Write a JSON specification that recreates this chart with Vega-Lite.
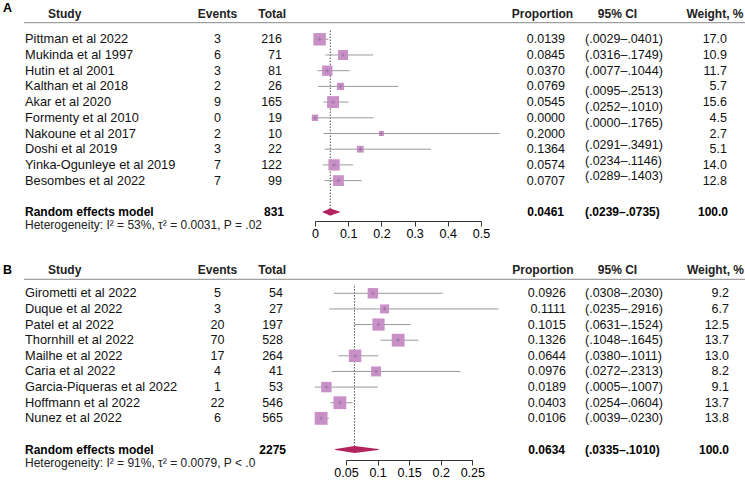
{
"$schema": "https://vega.github.io/schema/vega-lite/v6.json",
"padding": 0,
"background": "white",
"spacing": 11,
"config": {"view": {"stroke": null}, "font": "Liberation Sans", "text": {"font": "Liberation Sans"}},
"datasets": {
"studiesA": [
{"study": "Pittman et al 2022", "events": 3, "total": 216, "prop": 0.0139, "lo": 0.0029, "hi": 0.0401, "ci": "(.0029–.0401)", "weight": 17.0, "row": 1, "ciRow": 1},
{"study": "Mukinda et al 1997", "events": 6, "total": 71, "prop": 0.0845, "lo": 0.0316, "hi": 0.1749, "ci": "(.0316–.1749)", "weight": 10.9, "row": 2, "ciRow": 2},
{"study": "Hutin et al 2001", "events": 3, "total": 81, "prop": 0.0370, "lo": 0.0077, "hi": 0.1044, "ci": "(.0077–.1044)", "weight": 11.7, "row": 3, "ciRow": 3},
{"study": "Kalthan et al 2018", "events": 2, "total": 26, "prop": 0.0769, "lo": 0.0095, "hi": 0.2513, "ci": "(.0095–.2513)", "weight": 5.7, "row": 4, "ciRow": 4.3},
{"study": "Akar et al 2020", "events": 9, "total": 165, "prop": 0.0545, "lo": 0.0252, "hi": 0.1010, "ci": "(.0252–.1010)", "weight": 15.6, "row": 5, "ciRow": 5.34},
{"study": "Formenty et al 2010", "events": 0, "total": 19, "prop": 0.0000, "lo": 0.0000, "hi": 0.1765, "ci": "(.0000–.1765)", "weight": 4.5, "row": 6, "ciRow": 6.36},
{"study": "Nakoune et al 2017", "events": 2, "total": 10, "prop": 0.2000, "lo": 0.0252, "hi": 0.5561, "ci": "", "weight": 2.7, "row": 7, "ciRow": 7},
{"study": "Doshi et al 2019", "events": 3, "total": 22, "prop": 0.1364, "lo": 0.0291, "hi": 0.3491, "ci": "(.0291–.3491)", "weight": 5.1, "row": 8, "ciRow": 7.75},
{"study": "Yinka-Ogunleye et al 2019", "events": 7, "total": 122, "prop": 0.0574, "lo": 0.0234, "hi": 0.1146, "ci": "(.0234–.1146)", "weight": 14.0, "row": 9, "ciRow": 8.74},
{"study": "Besombes et al 2022", "events": 7, "total": 99, "prop": 0.0707, "lo": 0.0289, "hi": 0.1403, "ci": "(.0289–.1403)", "weight": 12.8, "row": 10, "ciRow": 9.72}
],
"summaryA": [{"label": "Random effects model", "total": 831, "prop": 0.0461, "lo": 0.0239, "hi": 0.0735, "ci": "(.0239–.0735)", "weight": 100.0, "row": 12}],
"diamondA": [{"x": 0.0239, "w": 0, "row": 12}, {"x": 0.0461, "w": 1, "row": 12}, {"x": 0.0735, "w": 0, "row": 12}],
"labelsA": [
{"key": "letter", "label": "A"},
{"key": "Study", "label": "Study"},
{"key": "Events", "label": "Events"},
{"key": "Total", "label": "Total"},
{"key": "Proportion", "label": "Proportion"},
{"key": "CI", "label": "95% CI"},
{"key": "Weight", "label": "Weight, %"},
{"key": "het", "label": "Heterogeneity: I² = 53%, τ² = 0.0031, P = .02"}
],
"studiesB": [
{"study": "Girometti et al 2022", "events": 5, "total": 54, "prop": 0.0926, "lo": 0.0308, "hi": 0.2030, "ci": "(.0308–.2030)", "weight": 9.2, "row": 1},
{"study": "Duque et al 2022", "events": 3, "total": 27, "prop": 0.1111, "lo": 0.0235, "hi": 0.2916, "ci": "(.0235–.2916)", "weight": 6.7, "row": 2},
{"study": "Patel et al 2022", "events": 20, "total": 197, "prop": 0.1015, "lo": 0.0631, "hi": 0.1524, "ci": "(.0631–.1524)", "weight": 12.5, "row": 3},
{"study": "Thornhill et al 2022", "events": 70, "total": 528, "prop": 0.1326, "lo": 0.1048, "hi": 0.1645, "ci": "(.1048–.1645)", "weight": 13.7, "row": 4},
{"study": "Mailhe et al 2022", "events": 17, "total": 264, "prop": 0.0644, "lo": 0.0380, "hi": 0.1011, "ci": "(.0380–.1011)", "weight": 13.0, "row": 5},
{"study": "Caria et al 2022", "events": 4, "total": 41, "prop": 0.0976, "lo": 0.0272, "hi": 0.2313, "ci": "(.0272–.2313)", "weight": 8.2, "row": 6},
{"study": "Garcia-Piqueras et al 2022", "events": 1, "total": 53, "prop": 0.0189, "lo": 0.0005, "hi": 0.1007, "ci": "(.0005–.1007)", "weight": 9.1, "row": 7},
{"study": "Hoffmann et al 2022", "events": 22, "total": 546, "prop": 0.0403, "lo": 0.0254, "hi": 0.0604, "ci": "(.0254–.0604)", "weight": 13.7, "row": 8},
{"study": "Nunez et al 2022", "events": 6, "total": 565, "prop": 0.0106, "lo": 0.0039, "hi": 0.0230, "ci": "(.0039–.0230)", "weight": 13.8, "row": 9}
],
"summaryB": [{"label": "Random effects model", "total": 2275, "prop": 0.0634, "lo": 0.0335, "hi": 0.1010, "ci": "(.0335–.1010)", "weight": 100.0, "row": 11}],
"diamondB": [{"x": 0.0335, "w": 0, "row": 11}, {"x": 0.0634, "w": 1, "row": 11}, {"x": 0.1010, "w": 0, "row": 11}],
"labelsB": [
{"key": "letter", "label": "B"},
{"key": "Study", "label": "Study"},
{"key": "Events", "label": "Events"},
{"key": "Total", "label": "Total"},
{"key": "Proportion", "label": "Proportion"},
{"key": "CI", "label": "95% CI"},
{"key": "Weight", "label": "Weight, %"},
{"key": "het", "label": "Heterogeneity: I² = 91%, τ² = 0.0079, P < .0"}
]
},
"vconcat": [
{
"width": 745, "height": 221,
"layer": [
{
"layer": [
{"data": {"name": "summaryA"}, "mark": {"type": "rule", "color": "#555555", "strokeDash": [1.5, 1.5], "strokeWidth": 1},
 "encoding": {
 "x": {"field": "prop", "type": "quantitative", "scale": {"domain": [0, 0.5], "range": [315, 481], "nice": false, "zero": false}, "axis": {"values": [0, 0.1, 0.2, 0.3, 0.4, 0.5], "format": "~g", "title": null, "grid": false, "labelFlush": false, "labelOverlap": false, "domainColor": "#333333", "tickColor": "#333333", "tickSize": 5, "labelPadding": 1, "labelFontSize": 12.5, "labelColor": "#000000", "labelFont": "Liberation Sans"}},
 "y": {"field": "row", "type": "quantitative", "scale": {"domain": [-1.503, 12.573], "reverse": true, "nice": false, "zero": false}, "axis": null},
 "y2": {"datum": 0.41}}},
{"data": {"name": "studiesA"}, "mark": {"type": "rule", "color": "#9a9a9a", "strokeWidth": 1},
 "encoding": {
 "x": {"field": "lo", "type": "quantitative", "scale": {"domain": [0, 0.5], "range": [315, 481], "nice": false, "zero": false}, "axis": {"values": [0, 0.1, 0.2, 0.3, 0.4, 0.5], "format": "~g", "title": null, "grid": false, "labelFlush": false, "labelOverlap": false, "domainColor": "#333333", "tickColor": "#333333", "tickSize": 5, "labelPadding": 1, "labelFontSize": 12.5, "labelColor": "#000000", "labelFont": "Liberation Sans"}},
 "x2": {"field": "hi"},
 "y": {"field": "row", "type": "quantitative", "scale": {"domain": [-1.503, 12.573], "reverse": true, "nice": false, "zero": false}, "axis": null}}},
{"data": {"name": "studiesA"}, "mark": {"type": "square", "filled": true, "color": "#c890c6", "opacity": 1},
 "encoding": {
 "x": {"field": "prop", "type": "quantitative", "scale": {"domain": [0, 0.5], "range": [315, 481], "nice": false, "zero": false}, "axis": {"values": [0, 0.1, 0.2, 0.3, 0.4, 0.5], "format": "~g", "title": null, "grid": false, "labelFlush": false, "labelOverlap": false, "domainColor": "#333333", "tickColor": "#333333", "tickSize": 5, "labelPadding": 1, "labelFontSize": 12.5, "labelColor": "#000000", "labelFont": "Liberation Sans"}},
 "y": {"field": "row", "type": "quantitative", "scale": {"domain": [-1.503, 12.573], "reverse": true, "nice": false, "zero": false}, "axis": null},
 "size": {"field": "weight", "type": "quantitative", "scale": {"domain": [0, 17], "range": [0, 155]}, "legend": null}}},
{"data": {"name": "studiesA"}, "mark": {"type": "point", "shape": "M-1,0L1,0M0,-1L0,1", "filled": false, "stroke": "#7d6c8a", "strokeWidth": 0.6, "size": 16, "opacity": 0.9},
 "encoding": {
 "x": {"field": "prop", "type": "quantitative", "scale": {"domain": [0, 0.5], "range": [315, 481], "nice": false, "zero": false}, "axis": {"values": [0, 0.1, 0.2, 0.3, 0.4, 0.5], "format": "~g", "title": null, "grid": false, "labelFlush": false, "labelOverlap": false, "domainColor": "#333333", "tickColor": "#333333", "tickSize": 5, "labelPadding": 1, "labelFontSize": 12.5, "labelColor": "#000000", "labelFont": "Liberation Sans"}},
 "y": {"field": "row", "type": "quantitative", "scale": {"domain": [-1.503, 12.573], "reverse": true, "nice": false, "zero": false}, "axis": null}}},
{"data": {"name": "diamondA"}, "mark": {"type": "trail", "color": "#b3245f"},
 "encoding": {
 "x": {"field": "x", "type": "quantitative", "scale": {"domain": [0, 0.5], "range": [315, 481], "nice": false, "zero": false}, "axis": {"values": [0, 0.1, 0.2, 0.3, 0.4, 0.5], "format": "~g", "title": null, "grid": false, "labelFlush": false, "labelOverlap": false, "domainColor": "#333333", "tickColor": "#333333", "tickSize": 5, "labelPadding": 1, "labelFontSize": 12.5, "labelColor": "#000000", "labelFont": "Liberation Sans"}},
 "y": {"field": "row", "type": "quantitative", "scale": {"domain": [-1.503, 12.573], "reverse": true, "nice": false, "zero": false}, "axis": null},
 "size": {"field": "w", "type": "quantitative", "scale": {"domain": [0, 1], "range": [0, 7]}, "legend": null}}}
],
"resolve": {"scale": {"size": "independent"}}
},
{
"layer": [
{"data": {"name": "labelsA"}, "transform": [{"filter": "datum.key == 'Study'"}],
 "mark": {"type": "rule", "color": "#888888", "strokeWidth": 1, "xOffset": -1, "x2Offset": 20},
 "encoding": {
 "x": {"datum": "Study", "type": "nominal", "scale": {"type": "point", "domain": ["Study", "Events", "Total", "Proportion", "CI", "Weight"], "range": [25, 725], "padding": 0}, "axis": null},
 "x2": {"datum": "Weight"},
 "y": {"datum": -0.057, "type": "quantitative", "scale": {"domain": [-1.503, 12.573], "reverse": true, "nice": false, "zero": false}, "axis": null}}},
{"data": {"name": "labelsA"}, "transform": [{"filter": "datum.key == 'letter'"}],
 "mark": {"type": "text", "align": "left", "baseline": "middle", "fontSize": 12.5, "fontWeight": "bold", "color": "#000000", "dx": -22},
 "encoding": {
 "x": {"datum": "Study", "type": "nominal", "scale": {"type": "point", "domain": ["Study", "Events", "Total", "Proportion", "CI", "Weight"], "range": [25, 725], "padding": 0}, "axis": null},
 "y": {"datum": -1.0, "type": "quantitative", "scale": {"domain": [-1.503, 12.573], "reverse": true, "nice": false, "zero": false}, "axis": null},
 "text": {"field": "label"}}},
{"data": {"name": "labelsA"}, "transform": [{"filter": "datum.key == 'Study'"}],
 "mark": {"type": "text", "align": "left", "baseline": "middle", "fontSize": 12, "fontWeight": "bold", "color": "#222222", "dx": 23},
 "encoding": {
 "x": {"datum": "Study", "type": "nominal", "scale": {"type": "point", "domain": ["Study", "Events", "Total", "Proportion", "CI", "Weight"], "range": [25, 725], "padding": 0}, "axis": null},
 "y": {"datum": -0.59, "type": "quantitative", "scale": {"domain": [-1.503, 12.573], "reverse": true, "nice": false, "zero": false}, "axis": null},
 "text": {"field": "label"}}},
{"data": {"name": "labelsA"}, "transform": [{"filter": "datum.key == 'Events'"}],
 "mark": {"type": "text", "align": "center", "baseline": "middle", "fontSize": 12, "fontWeight": "bold", "color": "#222222", "dx": 52.5},
 "encoding": {
 "x": {"datum": "Events", "type": "nominal", "scale": {"type": "point", "domain": ["Study", "Events", "Total", "Proportion", "CI", "Weight"], "range": [25, 725], "padding": 0}, "axis": null},
 "y": {"datum": -0.59, "type": "quantitative", "scale": {"domain": [-1.503, 12.573], "reverse": true, "nice": false, "zero": false}, "axis": null},
 "text": {"field": "label"}}},
{"data": {"name": "labelsA"}, "transform": [{"filter": "datum.key == 'Total'"}],
 "mark": {"type": "text", "align": "right", "baseline": "middle", "fontSize": 12, "fontWeight": "bold", "color": "#222222", "dx": -19},
 "encoding": {
 "x": {"datum": "Total", "type": "nominal", "scale": {"type": "point", "domain": ["Study", "Events", "Total", "Proportion", "CI", "Weight"], "range": [25, 725], "padding": 0}, "axis": null},
 "y": {"datum": -0.59, "type": "quantitative", "scale": {"domain": [-1.503, 12.573], "reverse": true, "nice": false, "zero": false}, "axis": null},
 "text": {"field": "label"}}},
{"data": {"name": "labelsA"}, "transform": [{"filter": "datum.key == 'Proportion'"}],
 "mark": {"type": "text", "align": "center", "baseline": "middle", "fontSize": 12, "fontWeight": "bold", "color": "#222222", "dx": 97.5},
 "encoding": {
 "x": {"datum": "Proportion", "type": "nominal", "scale": {"type": "point", "domain": ["Study", "Events", "Total", "Proportion", "CI", "Weight"], "range": [25, 725], "padding": 0}, "axis": null},
 "y": {"datum": -0.59, "type": "quantitative", "scale": {"domain": [-1.503, 12.573], "reverse": true, "nice": false, "zero": false}, "axis": null},
 "text": {"field": "label"}}},
{"data": {"name": "labelsA"}, "transform": [{"filter": "datum.key == 'CI'"}],
 "mark": {"type": "text", "align": "center", "baseline": "middle", "fontSize": 12, "fontWeight": "bold", "color": "#222222", "dx": 32.5},
 "encoding": {
 "x": {"datum": "CI", "type": "nominal", "scale": {"type": "point", "domain": ["Study", "Events", "Total", "Proportion", "CI", "Weight"], "range": [25, 725], "padding": 0}, "axis": null},
 "y": {"datum": -0.59, "type": "quantitative", "scale": {"domain": [-1.503, 12.573], "reverse": true, "nice": false, "zero": false}, "axis": null},
 "text": {"field": "label"}}},
{"data": {"name": "labelsA"}, "transform": [{"filter": "datum.key == 'Weight'"}],
 "mark": {"type": "text", "align": "right", "baseline": "middle", "fontSize": 12, "fontWeight": "bold", "color": "#222222", "dx": 18.5},
 "encoding": {
 "x": {"datum": "Weight", "type": "nominal", "scale": {"type": "point", "domain": ["Study", "Events", "Total", "Proportion", "CI", "Weight"], "range": [25, 725], "padding": 0}, "axis": null},
 "y": {"datum": -0.59, "type": "quantitative", "scale": {"domain": [-1.503, 12.573], "reverse": true, "nice": false, "zero": false}, "axis": null},
 "text": {"field": "label"}}},
{"data": {"name": "labelsA"}, "transform": [{"filter": "datum.key == 'het'"}],
 "mark": {"type": "text", "align": "left", "baseline": "middle", "fontSize": 12, "color": "#222222"},
 "encoding": {
 "x": {"datum": "Study", "type": "nominal", "scale": {"type": "point", "domain": ["Study", "Events", "Total", "Proportion", "CI", "Weight"], "range": [25, 725], "padding": 0}, "axis": null},
 "y": {"datum": 12.82, "type": "quantitative", "scale": {"domain": [-1.503, 12.573], "reverse": true, "nice": false, "zero": false}, "axis": null},
 "text": {"field": "label"}}},
{"data": {"name": "studiesA"},
 "mark": {"type": "text", "align": "left", "baseline": "middle", "fontSize": 12.8, "color": "#111111"},
 "encoding": {
 "x": {"datum": "Study", "type": "nominal", "scale": {"type": "point", "domain": ["Study", "Events", "Total", "Proportion", "CI", "Weight"], "range": [25, 725], "padding": 0}, "axis": null},
 "y": {"field": "row", "type": "quantitative", "scale": {"domain": [-1.503, 12.573], "reverse": true, "nice": false, "zero": false}, "axis": null},
 "text": {"field": "study"}}},
{"data": {"name": "studiesA"},
 "mark": {"type": "text", "align": "center", "baseline": "middle", "fontSize": 12.5, "color": "#111111", "dx": 52.5},
 "encoding": {
 "x": {"datum": "Events", "type": "nominal", "scale": {"type": "point", "domain": ["Study", "Events", "Total", "Proportion", "CI", "Weight"], "range": [25, 725], "padding": 0}, "axis": null},
 "y": {"field": "row", "type": "quantitative", "scale": {"domain": [-1.503, 12.573], "reverse": true, "nice": false, "zero": false}, "axis": null},
 "text": {"field": "events"}}},
{"data": {"name": "studiesA"},
 "mark": {"type": "text", "align": "right", "baseline": "middle", "fontSize": 12.5, "color": "#111111", "dx": -23},
 "encoding": {
 "x": {"datum": "Total", "type": "nominal", "scale": {"type": "point", "domain": ["Study", "Events", "Total", "Proportion", "CI", "Weight"], "range": [25, 725], "padding": 0}, "axis": null},
 "y": {"field": "row", "type": "quantitative", "scale": {"domain": [-1.503, 12.573], "reverse": true, "nice": false, "zero": false}, "axis": null},
 "text": {"field": "total"}}},
{"data": {"name": "studiesA"},
 "mark": {"type": "text", "align": "right", "baseline": "middle", "fontSize": 12.5, "color": "#111111", "dx": 120},
 "encoding": {
 "x": {"datum": "Proportion", "type": "nominal", "scale": {"type": "point", "domain": ["Study", "Events", "Total", "Proportion", "CI", "Weight"], "range": [25, 725], "padding": 0}, "axis": null},
 "y": {"field": "row", "type": "quantitative", "scale": {"domain": [-1.503, 12.573], "reverse": true, "nice": false, "zero": false}, "axis": null},
 "text": {"field": "prop", "type": "quantitative", "format": ".4f"}}},
{"data": {"name": "studiesA"},
 "mark": {"type": "text", "align": "left", "baseline": "middle", "fontSize": 12.5, "color": "#111111"},
 "encoding": {
 "x": {"datum": "CI", "type": "nominal", "scale": {"type": "point", "domain": ["Study", "Events", "Total", "Proportion", "CI", "Weight"], "range": [25, 725], "padding": 0}, "axis": null},
 "y": {"field": "ciRow", "type": "quantitative", "scale": {"domain": [-1.503, 12.573], "reverse": true, "nice": false, "zero": false}, "axis": null},
 "text": {"field": "ci"}}},
{"data": {"name": "studiesA"},
 "mark": {"type": "text", "align": "right", "baseline": "middle", "fontSize": 12.5, "color": "#111111", "dx": 2},
 "encoding": {
 "x": {"datum": "Weight", "type": "nominal", "scale": {"type": "point", "domain": ["Study", "Events", "Total", "Proportion", "CI", "Weight"], "range": [25, 725], "padding": 0}, "axis": null},
 "y": {"field": "row", "type": "quantitative", "scale": {"domain": [-1.503, 12.573], "reverse": true, "nice": false, "zero": false}, "axis": null},
 "text": {"field": "weight", "type": "quantitative", "format": ".1f"}}},
{"data": {"name": "summaryA"},
 "mark": {"type": "text", "align": "left", "baseline": "middle", "fontSize": 12, "fontWeight": "bold", "color": "#000000"},
 "encoding": {
 "x": {"datum": "Study", "type": "nominal", "scale": {"type": "point", "domain": ["Study", "Events", "Total", "Proportion", "CI", "Weight"], "range": [25, 725], "padding": 0}, "axis": null},
 "y": {"field": "row", "type": "quantitative", "scale": {"domain": [-1.503, 12.573], "reverse": true, "nice": false, "zero": false}, "axis": null},
 "text": {"field": "label"}}},
{"data": {"name": "summaryA"},
 "mark": {"type": "text", "align": "right", "baseline": "middle", "fontSize": 12, "fontWeight": "bold", "color": "#000000", "dx": -21},
 "encoding": {
 "x": {"datum": "Total", "type": "nominal", "scale": {"type": "point", "domain": ["Study", "Events", "Total", "Proportion", "CI", "Weight"], "range": [25, 725], "padding": 0}, "axis": null},
 "y": {"field": "row", "type": "quantitative", "scale": {"domain": [-1.503, 12.573], "reverse": true, "nice": false, "zero": false}, "axis": null},
 "text": {"field": "total"}}},
{"data": {"name": "summaryA"},
 "mark": {"type": "text", "align": "right", "baseline": "middle", "fontSize": 12, "fontWeight": "bold", "color": "#000000", "dx": 119},
 "encoding": {
 "x": {"datum": "Proportion", "type": "nominal", "scale": {"type": "point", "domain": ["Study", "Events", "Total", "Proportion", "CI", "Weight"], "range": [25, 725], "padding": 0}, "axis": null},
 "y": {"field": "row", "type": "quantitative", "scale": {"domain": [-1.503, 12.573], "reverse": true, "nice": false, "zero": false}, "axis": null},
 "text": {"field": "prop", "type": "quantitative", "format": ".4f"}}},
{"data": {"name": "summaryA"},
 "mark": {"type": "text", "align": "left", "baseline": "middle", "fontSize": 12, "fontWeight": "bold", "color": "#000000"},
 "encoding": {
 "x": {"datum": "CI", "type": "nominal", "scale": {"type": "point", "domain": ["Study", "Events", "Total", "Proportion", "CI", "Weight"], "range": [25, 725], "padding": 0}, "axis": null},
 "y": {"field": "row", "type": "quantitative", "scale": {"domain": [-1.503, 12.573], "reverse": true, "nice": false, "zero": false}, "axis": null},
 "text": {"field": "ci"}}},
{"data": {"name": "summaryA"},
 "mark": {"type": "text", "align": "right", "baseline": "middle", "fontSize": 12, "fontWeight": "bold", "color": "#000000", "dx": 3},
 "encoding": {
 "x": {"datum": "Weight", "type": "nominal", "scale": {"type": "point", "domain": ["Study", "Events", "Total", "Proportion", "CI", "Weight"], "range": [25, 725], "padding": 0}, "axis": null},
 "y": {"field": "row", "type": "quantitative", "scale": {"domain": [-1.503, 12.573], "reverse": true, "nice": false, "zero": false}, "axis": null},
 "text": {"field": "weight", "type": "quantitative", "format": ".1f"}}}
]
}
],
"resolve": {"scale": {"x": "independent"}, "axis": {"x": "independent"}}
},
{
"width": 745, "height": 209,
"layer": [
{
"layer": [
{"data": {"name": "summaryB"}, "mark": {"type": "rule", "color": "#555555", "strokeDash": [1.5, 1.5], "strokeWidth": 1},
 "encoding": {
 "x": {"field": "prop", "type": "quantitative", "scale": {"domain": [0.05, 0.25], "range": [346, 472.3], "nice": false, "zero": false}, "axis": {"values": [0.05, 0.1, 0.15, 0.2, 0.25], "format": "~g", "title": null, "grid": false, "labelFlush": false, "labelOverlap": false, "domainColor": "#333333", "tickColor": "#333333", "tickSize": 5, "labelPadding": 1, "labelFontSize": 12.5, "labelColor": "#000000", "labelFont": "Liberation Sans"}},
 "y": {"field": "row", "type": "quantitative", "scale": {"domain": [-1.706, 11.665], "reverse": true, "nice": false, "zero": false}, "axis": null},
 "y2": {"datum": 0.42}}},
{"data": {"name": "studiesB"}, "mark": {"type": "rule", "color": "#9a9a9a", "strokeWidth": 1},
 "encoding": {
 "x": {"field": "lo", "type": "quantitative", "scale": {"domain": [0.05, 0.25], "range": [346, 472.3], "nice": false, "zero": false}, "axis": {"values": [0.05, 0.1, 0.15, 0.2, 0.25], "format": "~g", "title": null, "grid": false, "labelFlush": false, "labelOverlap": false, "domainColor": "#333333", "tickColor": "#333333", "tickSize": 5, "labelPadding": 1, "labelFontSize": 12.5, "labelColor": "#000000", "labelFont": "Liberation Sans"}},
 "x2": {"field": "hi"},
 "y": {"field": "row", "type": "quantitative", "scale": {"domain": [-1.706, 11.665], "reverse": true, "nice": false, "zero": false}, "axis": null}}},
{"data": {"name": "studiesB"}, "mark": {"type": "square", "filled": true, "color": "#c890c6", "opacity": 1},
 "encoding": {
 "x": {"field": "prop", "type": "quantitative", "scale": {"domain": [0.05, 0.25], "range": [346, 472.3], "nice": false, "zero": false}, "axis": {"values": [0.05, 0.1, 0.15, 0.2, 0.25], "format": "~g", "title": null, "grid": false, "labelFlush": false, "labelOverlap": false, "domainColor": "#333333", "tickColor": "#333333", "tickSize": 5, "labelPadding": 1, "labelFontSize": 12.5, "labelColor": "#000000", "labelFont": "Liberation Sans"}},
 "y": {"field": "row", "type": "quantitative", "scale": {"domain": [-1.706, 11.665], "reverse": true, "nice": false, "zero": false}, "axis": null},
 "size": {"field": "weight", "type": "quantitative", "scale": {"domain": [0, 13.8], "range": [0, 165]}, "legend": null}}},
{"data": {"name": "studiesB"}, "mark": {"type": "point", "shape": "M-1,0L1,0M0,-1L0,1", "filled": false, "stroke": "#7d6c8a", "strokeWidth": 0.6, "size": 16, "opacity": 0.9},
 "encoding": {
 "x": {"field": "prop", "type": "quantitative", "scale": {"domain": [0.05, 0.25], "range": [346, 472.3], "nice": false, "zero": false}, "axis": {"values": [0.05, 0.1, 0.15, 0.2, 0.25], "format": "~g", "title": null, "grid": false, "labelFlush": false, "labelOverlap": false, "domainColor": "#333333", "tickColor": "#333333", "tickSize": 5, "labelPadding": 1, "labelFontSize": 12.5, "labelColor": "#000000", "labelFont": "Liberation Sans"}},
 "y": {"field": "row", "type": "quantitative", "scale": {"domain": [-1.706, 11.665], "reverse": true, "nice": false, "zero": false}, "axis": null}}},
{"data": {"name": "diamondB"}, "mark": {"type": "trail", "color": "#b3245f"},
 "encoding": {
 "x": {"field": "x", "type": "quantitative", "scale": {"domain": [0.05, 0.25], "range": [346, 472.3], "nice": false, "zero": false}, "axis": {"values": [0.05, 0.1, 0.15, 0.2, 0.25], "format": "~g", "title": null, "grid": false, "labelFlush": false, "labelOverlap": false, "domainColor": "#333333", "tickColor": "#333333", "tickSize": 5, "labelPadding": 1, "labelFontSize": 12.5, "labelColor": "#000000", "labelFont": "Liberation Sans"}},
 "y": {"field": "row", "type": "quantitative", "scale": {"domain": [-1.706, 11.665], "reverse": true, "nice": false, "zero": false}, "axis": null},
 "size": {"field": "w", "type": "quantitative", "scale": {"domain": [0, 1], "range": [0, 7]}, "legend": null}}}
],
"resolve": {"scale": {"size": "independent"}}
},
{
"layer": [
{"data": {"name": "labelsB"}, "transform": [{"filter": "datum.key == 'Study'"}],
 "mark": {"type": "rule", "color": "#888888", "strokeWidth": 1, "xOffset": -1, "x2Offset": 20},
 "encoding": {
 "x": {"datum": "Study", "type": "nominal", "scale": {"type": "point", "domain": ["Study", "Events", "Total", "Proportion", "CI", "Weight"], "range": [25, 725], "padding": 0}, "axis": null},
 "x2": {"datum": "Weight"},
 "y": {"datum": 0.104, "type": "quantitative", "scale": {"domain": [-1.706, 11.665], "reverse": true, "nice": false, "zero": false}, "axis": null}}},
{"data": {"name": "labelsB"}, "transform": [{"filter": "datum.key == 'letter'"}],
 "mark": {"type": "text", "align": "left", "baseline": "middle", "fontSize": 12.5, "fontWeight": "bold", "color": "#000000", "dx": -22},
 "encoding": {
 "x": {"datum": "Study", "type": "nominal", "scale": {"type": "point", "domain": ["Study", "Events", "Total", "Proportion", "CI", "Weight"], "range": [25, 725], "padding": 0}, "axis": null},
 "y": {"datum": -0.49, "type": "quantitative", "scale": {"domain": [-1.706, 11.665], "reverse": true, "nice": false, "zero": false}, "axis": null},
 "text": {"field": "label"}}},
{"data": {"name": "labelsB"}, "transform": [{"filter": "datum.key == 'Study'"}],
 "mark": {"type": "text", "align": "left", "baseline": "middle", "fontSize": 12, "fontWeight": "bold", "color": "#222222", "dx": 23},
 "encoding": {
 "x": {"datum": "Study", "type": "nominal", "scale": {"type": "point", "domain": ["Study", "Events", "Total", "Proportion", "CI", "Weight"], "range": [25, 725], "padding": 0}, "axis": null},
 "y": {"datum": -0.47, "type": "quantitative", "scale": {"domain": [-1.706, 11.665], "reverse": true, "nice": false, "zero": false}, "axis": null},
 "text": {"field": "label"}}},
{"data": {"name": "labelsB"}, "transform": [{"filter": "datum.key == 'Events'"}],
 "mark": {"type": "text", "align": "center", "baseline": "middle", "fontSize": 12, "fontWeight": "bold", "color": "#222222", "dx": 52.5},
 "encoding": {
 "x": {"datum": "Events", "type": "nominal", "scale": {"type": "point", "domain": ["Study", "Events", "Total", "Proportion", "CI", "Weight"], "range": [25, 725], "padding": 0}, "axis": null},
 "y": {"datum": -0.47, "type": "quantitative", "scale": {"domain": [-1.706, 11.665], "reverse": true, "nice": false, "zero": false}, "axis": null},
 "text": {"field": "label"}}},
{"data": {"name": "labelsB"}, "transform": [{"filter": "datum.key == 'Total'"}],
 "mark": {"type": "text", "align": "right", "baseline": "middle", "fontSize": 12, "fontWeight": "bold", "color": "#222222", "dx": -19},
 "encoding": {
 "x": {"datum": "Total", "type": "nominal", "scale": {"type": "point", "domain": ["Study", "Events", "Total", "Proportion", "CI", "Weight"], "range": [25, 725], "padding": 0}, "axis": null},
 "y": {"datum": -0.47, "type": "quantitative", "scale": {"domain": [-1.706, 11.665], "reverse": true, "nice": false, "zero": false}, "axis": null},
 "text": {"field": "label"}}},
{"data": {"name": "labelsB"}, "transform": [{"filter": "datum.key == 'Proportion'"}],
 "mark": {"type": "text", "align": "center", "baseline": "middle", "fontSize": 12, "fontWeight": "bold", "color": "#222222", "dx": 98},
 "encoding": {
 "x": {"datum": "Proportion", "type": "nominal", "scale": {"type": "point", "domain": ["Study", "Events", "Total", "Proportion", "CI", "Weight"], "range": [25, 725], "padding": 0}, "axis": null},
 "y": {"datum": -0.47, "type": "quantitative", "scale": {"domain": [-1.706, 11.665], "reverse": true, "nice": false, "zero": false}, "axis": null},
 "text": {"field": "label"}}},
{"data": {"name": "labelsB"}, "transform": [{"filter": "datum.key == 'CI'"}],
 "mark": {"type": "text", "align": "center", "baseline": "middle", "fontSize": 12, "fontWeight": "bold", "color": "#222222", "dx": 32.5},
 "encoding": {
 "x": {"datum": "CI", "type": "nominal", "scale": {"type": "point", "domain": ["Study", "Events", "Total", "Proportion", "CI", "Weight"], "range": [25, 725], "padding": 0}, "axis": null},
 "y": {"datum": -0.47, "type": "quantitative", "scale": {"domain": [-1.706, 11.665], "reverse": true, "nice": false, "zero": false}, "axis": null},
 "text": {"field": "label"}}},
{"data": {"name": "labelsB"}, "transform": [{"filter": "datum.key == 'Weight'"}],
 "mark": {"type": "text", "align": "right", "baseline": "middle", "fontSize": 12, "fontWeight": "bold", "color": "#222222", "dx": 19},
 "encoding": {
 "x": {"datum": "Weight", "type": "nominal", "scale": {"type": "point", "domain": ["Study", "Events", "Total", "Proportion", "CI", "Weight"], "range": [25, 725], "padding": 0}, "axis": null},
 "y": {"datum": -0.47, "type": "quantitative", "scale": {"domain": [-1.706, 11.665], "reverse": true, "nice": false, "zero": false}, "axis": null},
 "text": {"field": "label"}}},
{"data": {"name": "labelsB"}, "transform": [{"filter": "datum.key == 'het'"}],
 "mark": {"type": "text", "align": "left", "baseline": "middle", "fontSize": 12, "color": "#222222"},
 "encoding": {
 "x": {"datum": "Study", "type": "nominal", "scale": {"type": "point", "domain": ["Study", "Events", "Total", "Proportion", "CI", "Weight"], "range": [25, 725], "padding": 0}, "axis": null},
 "y": {"datum": 11.84, "type": "quantitative", "scale": {"domain": [-1.706, 11.665], "reverse": true, "nice": false, "zero": false}, "axis": null},
 "text": {"field": "label"}}},
{"data": {"name": "studiesB"},
 "mark": {"type": "text", "align": "left", "baseline": "middle", "fontSize": 12.8, "color": "#111111"},
 "encoding": {
 "x": {"datum": "Study", "type": "nominal", "scale": {"type": "point", "domain": ["Study", "Events", "Total", "Proportion", "CI", "Weight"], "range": [25, 725], "padding": 0}, "axis": null},
 "y": {"field": "row", "type": "quantitative", "scale": {"domain": [-1.706, 11.665], "reverse": true, "nice": false, "zero": false}, "axis": null},
 "text": {"field": "study"}}},
{"data": {"name": "studiesB"},
 "mark": {"type": "text", "align": "center", "baseline": "middle", "fontSize": 12.5, "color": "#111111", "dx": 52.5},
 "encoding": {
 "x": {"datum": "Events", "type": "nominal", "scale": {"type": "point", "domain": ["Study", "Events", "Total", "Proportion", "CI", "Weight"], "range": [25, 725], "padding": 0}, "axis": null},
 "y": {"field": "row", "type": "quantitative", "scale": {"domain": [-1.706, 11.665], "reverse": true, "nice": false, "zero": false}, "axis": null},
 "text": {"field": "events"}}},
{"data": {"name": "studiesB"},
 "mark": {"type": "text", "align": "right", "baseline": "middle", "fontSize": 12.5, "color": "#111111", "dx": -22},
 "encoding": {
 "x": {"datum": "Total", "type": "nominal", "scale": {"type": "point", "domain": ["Study", "Events", "Total", "Proportion", "CI", "Weight"], "range": [25, 725], "padding": 0}, "axis": null},
 "y": {"field": "row", "type": "quantitative", "scale": {"domain": [-1.706, 11.665], "reverse": true, "nice": false, "zero": false}, "axis": null},
 "text": {"field": "total"}}},
{"data": {"name": "studiesB"},
 "mark": {"type": "text", "align": "right", "baseline": "middle", "fontSize": 12.5, "color": "#111111", "dx": 121},
 "encoding": {
 "x": {"datum": "Proportion", "type": "nominal", "scale": {"type": "point", "domain": ["Study", "Events", "Total", "Proportion", "CI", "Weight"], "range": [25, 725], "padding": 0}, "axis": null},
 "y": {"field": "row", "type": "quantitative", "scale": {"domain": [-1.706, 11.665], "reverse": true, "nice": false, "zero": false}, "axis": null},
 "text": {"field": "prop", "type": "quantitative", "format": ".4f"}}},
{"data": {"name": "studiesB"},
 "mark": {"type": "text", "align": "left", "baseline": "middle", "fontSize": 12.5, "color": "#111111"},
 "encoding": {
 "x": {"datum": "CI", "type": "nominal", "scale": {"type": "point", "domain": ["Study", "Events", "Total", "Proportion", "CI", "Weight"], "range": [25, 725], "padding": 0}, "axis": null},
 "y": {"field": "row", "type": "quantitative", "scale": {"domain": [-1.706, 11.665], "reverse": true, "nice": false, "zero": false}, "axis": null},
 "text": {"field": "ci"}}},
{"data": {"name": "studiesB"},
 "mark": {"type": "text", "align": "right", "baseline": "middle", "fontSize": 12.5, "color": "#111111", "dx": 4},
 "encoding": {
 "x": {"datum": "Weight", "type": "nominal", "scale": {"type": "point", "domain": ["Study", "Events", "Total", "Proportion", "CI", "Weight"], "range": [25, 725], "padding": 0}, "axis": null},
 "y": {"field": "row", "type": "quantitative", "scale": {"domain": [-1.706, 11.665], "reverse": true, "nice": false, "zero": false}, "axis": null},
 "text": {"field": "weight", "type": "quantitative", "format": ".1f"}}},
{"data": {"name": "summaryB"},
 "mark": {"type": "text", "align": "left", "baseline": "middle", "fontSize": 12, "fontWeight": "bold", "color": "#000000"},
 "encoding": {
 "x": {"datum": "Study", "type": "nominal", "scale": {"type": "point", "domain": ["Study", "Events", "Total", "Proportion", "CI", "Weight"], "range": [25, 725], "padding": 0}, "axis": null},
 "y": {"field": "row", "type": "quantitative", "scale": {"domain": [-1.706, 11.665], "reverse": true, "nice": false, "zero": false}, "axis": null},
 "text": {"field": "label"}}},
{"data": {"name": "summaryB"},
 "mark": {"type": "text", "align": "right", "baseline": "middle", "fontSize": 12, "fontWeight": "bold", "color": "#000000", "dx": -19},
 "encoding": {
 "x": {"datum": "Total", "type": "nominal", "scale": {"type": "point", "domain": ["Study", "Events", "Total", "Proportion", "CI", "Weight"], "range": [25, 725], "padding": 0}, "axis": null},
 "y": {"field": "row", "type": "quantitative", "scale": {"domain": [-1.706, 11.665], "reverse": true, "nice": false, "zero": false}, "axis": null},
 "text": {"field": "total"}}},
{"data": {"name": "summaryB"},
 "mark": {"type": "text", "align": "right", "baseline": "middle", "fontSize": 12, "fontWeight": "bold", "color": "#000000", "dx": 120},
 "encoding": {
 "x": {"datum": "Proportion", "type": "nominal", "scale": {"type": "point", "domain": ["Study", "Events", "Total", "Proportion", "CI", "Weight"], "range": [25, 725], "padding": 0}, "axis": null},
 "y": {"field": "row", "type": "quantitative", "scale": {"domain": [-1.706, 11.665], "reverse": true, "nice": false, "zero": false}, "axis": null},
 "text": {"field": "prop", "type": "quantitative", "format": ".4f"}}},
{"data": {"name": "summaryB"},
 "mark": {"type": "text", "align": "left", "baseline": "middle", "fontSize": 12, "fontWeight": "bold", "color": "#000000"},
 "encoding": {
 "x": {"datum": "CI", "type": "nominal", "scale": {"type": "point", "domain": ["Study", "Events", "Total", "Proportion", "CI", "Weight"], "range": [25, 725], "padding": 0}, "axis": null},
 "y": {"field": "row", "type": "quantitative", "scale": {"domain": [-1.706, 11.665], "reverse": true, "nice": false, "zero": false}, "axis": null},
 "text": {"field": "ci"}}},
{"data": {"name": "summaryB"},
 "mark": {"type": "text", "align": "right", "baseline": "middle", "fontSize": 12, "fontWeight": "bold", "color": "#000000", "dx": 4},
 "encoding": {
 "x": {"datum": "Weight", "type": "nominal", "scale": {"type": "point", "domain": ["Study", "Events", "Total", "Proportion", "CI", "Weight"], "range": [25, 725], "padding": 0}, "axis": null},
 "y": {"field": "row", "type": "quantitative", "scale": {"domain": [-1.706, 11.665], "reverse": true, "nice": false, "zero": false}, "axis": null},
 "text": {"field": "weight", "type": "quantitative", "format": ".1f"}}}
]
}
],
"resolve": {"scale": {"x": "independent"}, "axis": {"x": "independent"}}
}
]
}
